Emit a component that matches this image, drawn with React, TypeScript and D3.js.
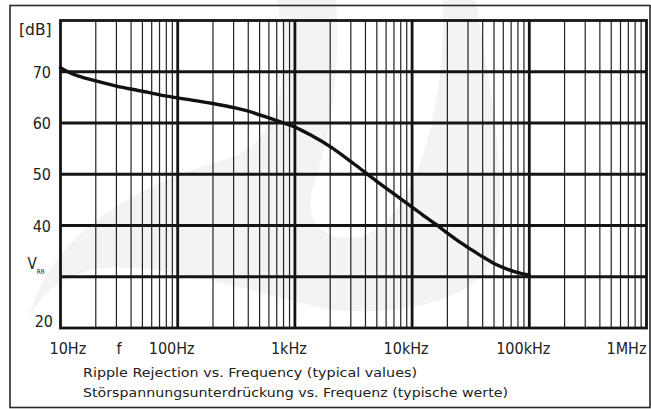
import React from "react";
import * as d3 from "d3";

const FREQ = [10, 12, 15, 20, 30, 50, 70, 100, 200, 300, 400, 500, 600, 800, 1000, 1400, 2000, 3200, 5000, 8000, 10000, 12600, 16000, 20000, 25000, 32000, 40000, 50000, 63000, 80000, 100000];
const DB = [70.8, 69.8, 69.0, 68.2, 67.2, 66.2, 65.5, 64.9, 63.8, 63.0, 62.3, 61.6, 61.0, 60.0, 59.2, 57.5, 55.4, 52.0, 48.6, 45.2, 43.6, 41.9, 40.2, 38.5, 36.9, 35.3, 33.9, 32.6, 31.6, 30.8, 30.3];

const X_TICKS = [10, 100, 1000, 10000, 100000, 1000000];
const X_LABELS = ["10Hz", "100Hz", "1kHz", "10kHz", "100kHz", "1MHz"];
const Y_GRID = [30, 40, 50, 60, 70];
const Y_TICKS = [70, 60, 50, 40, 20];
const Y_LABELS = ["70", "60", "50", "40", "20"];
const CAPTION = [
  "Ripple Rejection vs. Frequency (typical values)",
  "Störspannungsunterdrückung vs. Frequenz (typische werte)",
];

const W = 651;
const H = 409;
const L = 60.5, R = 646.5, T = 20.5, B = 328;

export default function App() {
  const x = d3.scaleLog().domain([10, 1e6]).range([L, R]);
  const y = d3.scaleLinear().domain([20, 80]).range([B, T]);

  const minors: number[] = [];
  for (let k = 1; k <= 5; k++) {
    for (let m = 2; m <= 9; m++) minors.push(m * Math.pow(10, k));
  }
  const decades = X_TICKS.slice(1, -1);

  const pts = FREQ.map((f, i) => [x(f), y(DB[i])] as [number, number]);
  const line = d3.line().curve(d3.curveMonotoneX)(pts) || "";

  const cond = "'DejaVu Sans Condensed', 'DejaVu Sans', sans-serif";
  const sans = "'DejaVu Sans', Verdana, sans-serif";
  const ink = "#141414";

  const wm =
    "M 28,322 C 45,240 130,185 230,158 C 285,140 292,60 276,0 L 336,0 " +
    "C 342,80 326,150 312,190 C 302,232 340,248 372,232 C 420,205 446,100 443,0 " +
    "L 476,0 C 492,100 512,200 492,262 C 470,302 400,316 330,310 " +
    "C 250,292 150,258 92,270 C 56,278 36,300 28,322 Z";

  return (
    <svg
      width={W}
      height={H}
      viewBox={`0 0 ${W} ${H}`}
      style={{ position: "absolute", left: 0, top: 0, background: "#fff" }}
    >
      <rect x={0} y={0} width={W} height={H} fill="#fff" />
      <path d={wm} fill="#f3f3f3" />
      <rect x={10} y={5.5} width={640} height={402} fill="none" stroke="#2a2a2a" strokeWidth={1.6} />

      {minors.map((f) => (
        <line key={"m" + f} x1={x(f)} x2={x(f)} y1={T} y2={B} stroke="#222" strokeWidth={1.2} />
      ))}
      {decades.map((f) => (
        <line key={"d" + f} x1={x(f)} x2={x(f)} y1={T} y2={B} stroke={ink} strokeWidth={2.8} />
      ))}
      {Y_GRID.map((v) => (
        <line key={"h" + v} x1={L} x2={R} y1={y(v)} y2={y(v)} stroke={ink} strokeWidth={2.8} />
      ))}
      <rect x={L} y={T} width={R - L} height={B - T} fill="none" stroke={ink} strokeWidth={2.8} />

      <path d={line} fill="none" stroke="#111" strokeWidth={3.4} strokeLinecap="round" strokeLinejoin="round" />

      <text x={19} y={35} fontFamily={sans} fontSize={15.5} fill="#222">[dB]</text>

      {Y_TICKS.map((v, i) => (
        <text
          key={"yl" + v}
          x={v === 20 ? 53 : 51}
          y={v === 20 ? y(v) - 1 : y(v) + 6}
          textAnchor="end"
          fontFamily={cond}
          fontSize={16}
          fill="#222"
        >
          {Y_LABELS[i]}
        </text>
      ))}

      <text x={27.5} y={269} fontFamily={cond} fontSize={15} fill="#222">
        V
        <tspan fontSize={6.5} dy={5}>RR</tspan>
      </text>

      {X_TICKS.map((f, i) => {
        const first = i === 0;
        const last = i === X_TICKS.length - 1;
        return (
          <text
            key={"xl" + f}
            x={first ? x(f) - 11 : last ? x(f) : x(f) - 6}
            y={354}
            textAnchor={first ? "start" : last ? "end" : "middle"}
            fontFamily={cond}
            fontSize={16}
            fill="#222"
          >
            {X_LABELS[i]}
          </text>
        );
      })}
      <text x={119} y={354} textAnchor="middle" fontFamily={cond} fontSize={16} fill="#222">f</text>

      <text x={83} y={377} fontFamily={sans} fontSize={13} fill="#222" textLength={334} lengthAdjust="spacingAndGlyphs">
        {CAPTION[0]}
      </text>
      <text x={83} y={396.5} fontFamily={sans} fontSize={13} fill="#222" textLength={425} lengthAdjust="spacingAndGlyphs">
        {CAPTION[1]}
      </text>
    </svg>
  );
}
